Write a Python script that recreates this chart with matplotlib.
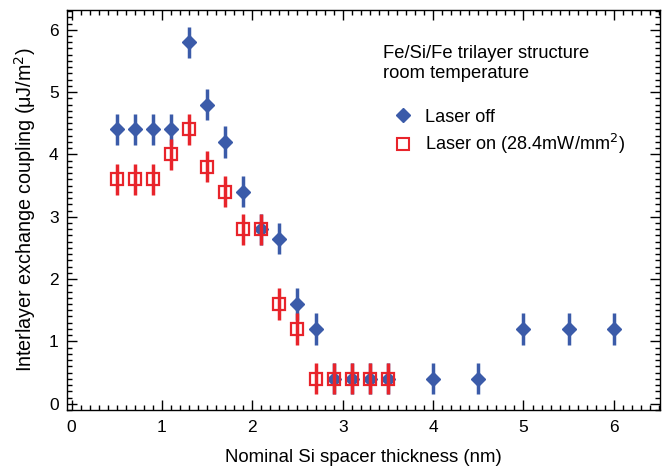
import matplotlib
matplotlib.use("Agg")
import matplotlib.pyplot as plt
from matplotlib.ticker import MultipleLocator
from matplotlib.lines import Line2D

plt.rcParams['font.family'] = ['Liberation Sans', 'DejaVu Sans']

x_off = [0.5, 0.7, 0.9, 1.1, 1.3, 1.5, 1.7, 1.9, 2.1, 2.3, 2.5, 2.7, 2.9, 3.1, 3.3, 3.5, 4.0, 4.5, 5.0, 5.5, 6.0]
y_off = [4.4, 4.4, 4.4, 4.4, 5.8, 4.8, 4.2, 3.4, 2.8, 2.65, 1.6, 1.2, 0.4, 0.4, 0.4, 0.4, 0.4, 0.4, 1.2, 1.2, 1.2]
x_on = [0.5, 0.7, 0.9, 1.1, 1.3, 1.5, 1.7, 1.9, 2.1, 2.3, 2.5, 2.7, 2.9, 3.1, 3.3, 3.5]
y_on = [3.6, 3.6, 3.6, 4.0, 4.4, 3.8, 3.4, 2.8, 2.8, 1.6, 1.2, 0.4, 0.4, 0.4, 0.4, 0.4]
err = 0.25

blue = '#3b5ba9'
red = '#e8242b'

fig = plt.figure(figsize=(6.7, 4.68), dpi=100)
ax = fig.add_axes([0.1, 0.124, 0.885, 0.855])

ax.errorbar(x_on, y_on, yerr=err, fmt='s', ms=8.5, mfc='none', mec=red, mew=1.6,
            ecolor=red, elinewidth=2.5, capsize=0, zorder=3)
ax.errorbar(x_off, y_off, yerr=err, fmt='D', ms=7.5, mfc=blue, mec=blue,
            ecolor=blue, elinewidth=2.5, capsize=0, zorder=2)

ax.set_xlim(-0.05, 6.51)
ax.set_ylim(-0.1, 6.32)
ax.xaxis.set_major_locator(MultipleLocator(1))
ax.xaxis.set_minor_locator(MultipleLocator(0.1))
ax.yaxis.set_major_locator(MultipleLocator(1))
ax.yaxis.set_minor_locator(MultipleLocator(0.1))
ax.tick_params(which='both', direction='in', top=True, right=True, labelsize=12.5, width=1)
ax.tick_params(which='major', length=7)
ax.tick_params(which='minor', length=3.5)
ax.tick_params(axis='x', pad=7)
ax.tick_params(axis='y', pad=6)
for s in ax.spines.values():
    s.set_linewidth(1)

ax.set_xlabel('Nominal Si spacer thickness (nm)', fontsize=13.4, labelpad=10)
ax.set_ylabel('Interlayer exchange coupling (\u03bcJ/m$^2$)', fontsize=14.2, labelpad=8)

ax.text(0.533, 0.912, 'Fe/Si/Fe trilayer structure\nroom temperature', transform=ax.transAxes,
        fontsize=13.2, va='top', ha='left', linespacing=1.2)

handles = [Line2D([], [], marker='D', ls='none', ms=7.5, mfc=blue, mec=blue),
           Line2D([], [], marker='s', ls='none', ms=8.5, mfc='none', mec=red, mew=1.5)]
ax.legend(handles, ['Laser off', 'Laser on (28.4mW/mm$^2$)'], loc='upper left',
          bbox_to_anchor=(0.551, 0.753), frameon=False, fontsize=13.1,
          handlelength=1.0, handletextpad=0.72, labelspacing=0.35, borderaxespad=0,
          borderpad=0)

fig.savefig('out.png', dpi=100)
